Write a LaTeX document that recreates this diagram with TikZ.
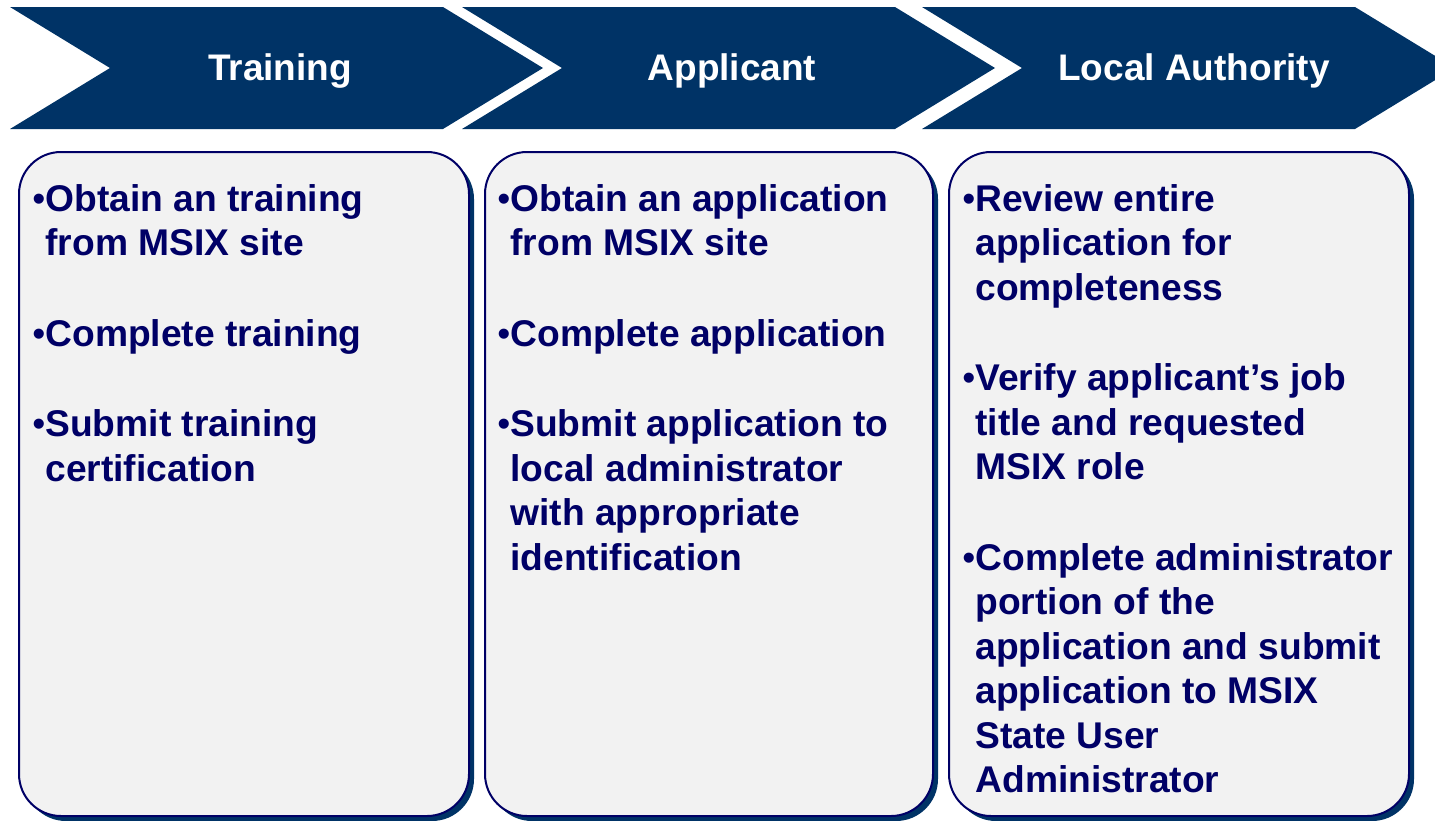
\documentclass[tikz,border=0pt]{standalone}
\usepackage{fontspec}
\setmainfont{Liberation Sans}
\usetikzlibrary{positioning, shadows}

\definecolor{chevblue}{RGB}{0,51,102}
\definecolor{inkblue}{RGB}{0,0,102}
\definecolor{panelgray}{RGB}{242,242,242}

% bullet and its indent
\newcommand{\bul}{{\mdseries•}}
\newcommand{\ind}{\phantom{\bul}}

\begin{document}
\begin{tikzpicture}[x=0.5pt, y=-0.5pt,
    chev/.style={fill=chevblue},
    head/.style={text=white, font=\bfseries\fontsize{18.5}{22.25}\selectfont, anchor=base},
    panel/.style={draw=inkblue, line width=1pt, fill=panelgray, rounded corners=21pt,
        anchor=north west, minimum height=332pt, inner sep=0pt,
        drop shadow={shadow xshift=2.5pt, shadow yshift=-2.5pt, fill=chevblue, opacity=1}},
    item/.style={text=inkblue, font=\bfseries\fontsize{18.6}{22.25}\selectfont,
        align=left, inner sep=0pt}]

    % Fix the page size and cut the last arrow tip
    \useasboundingbox (0,0) rectangle (1435,820);
    \clip (0,0) rectangle (1435,820);

    % Chevron parameters
    \def\cw{433} % top width
    \def\cd{100} % depth of point
    \def\ch{61}  % half height

    % Draw the three chevrons
    \fill[chev] (10,7) -- ++(\cw,0) -- ++(\cd,\ch) -- ++(-\cd,\ch) -- ++(-\cw,0) -- ++(\cd,-\ch) -- cycle;
    \fill[chev] (462,7) -- ++(\cw,0) -- ++(\cd,\ch) -- ++(-\cd,\ch) -- ++(-\cw,0) -- ++(\cd,-\ch) -- cycle;
    \fill[chev] (922,7) -- ++(\cw,0) -- ++(\cd,\ch) -- ++(-\cd,\ch) -- ++(-\cw,0) -- ++(\cd,-\ch) -- cycle;

    % Chevron titles
    \node[head] (train) at (280,80) {Training};
    \node[head] (appl) at (732,80) {Applicant};
    \node[head] (local) at (1194,80) {Local Authority};

    % Panels below the chevrons
    \node[panel, minimum width=225pt] (train-box) at (18,151) {};
    \node[panel, minimum width=224pt] (appl-box) at (484,151) {};
    \node[panel, minimum width=230pt] (local-box) at (948,151) {};

    % Bullet lists
    \node[item, below right=16.5pt and 7pt of train-box.north west] (train-list)
        {\bul Obtain an training\\ \ind from MSIX site\\[23pt]
         \bul Complete training\\[23pt]
         \bul Submit training\\ \ind certification};
    \node[item, below right=16.5pt and 6.5pt of appl-box.north west] (appl-list)
        {\bul Obtain an application\\ \ind from MSIX site\\[23pt]
         \bul Complete application\\[23pt]
         \bul Submit application to\\ \ind local administrator\\
         \ind with appropriate\\ \ind identification};
    \node[item, below right=16.5pt and 7pt of local-box.north west] (local-list)
        {\bul Review entire\\ \ind application for\\ \ind completeness\\[23pt]
         \bul Verify applicant’s job\\ \ind title and requested\\ \ind MSIX role\\[23pt]
         \bul Complete administrator\\ \ind portion of the\\
         \ind application and submit\\ \ind application to MSIX\\
         \ind State User\\ \ind Administrator};
\end{tikzpicture}
\end{document}
